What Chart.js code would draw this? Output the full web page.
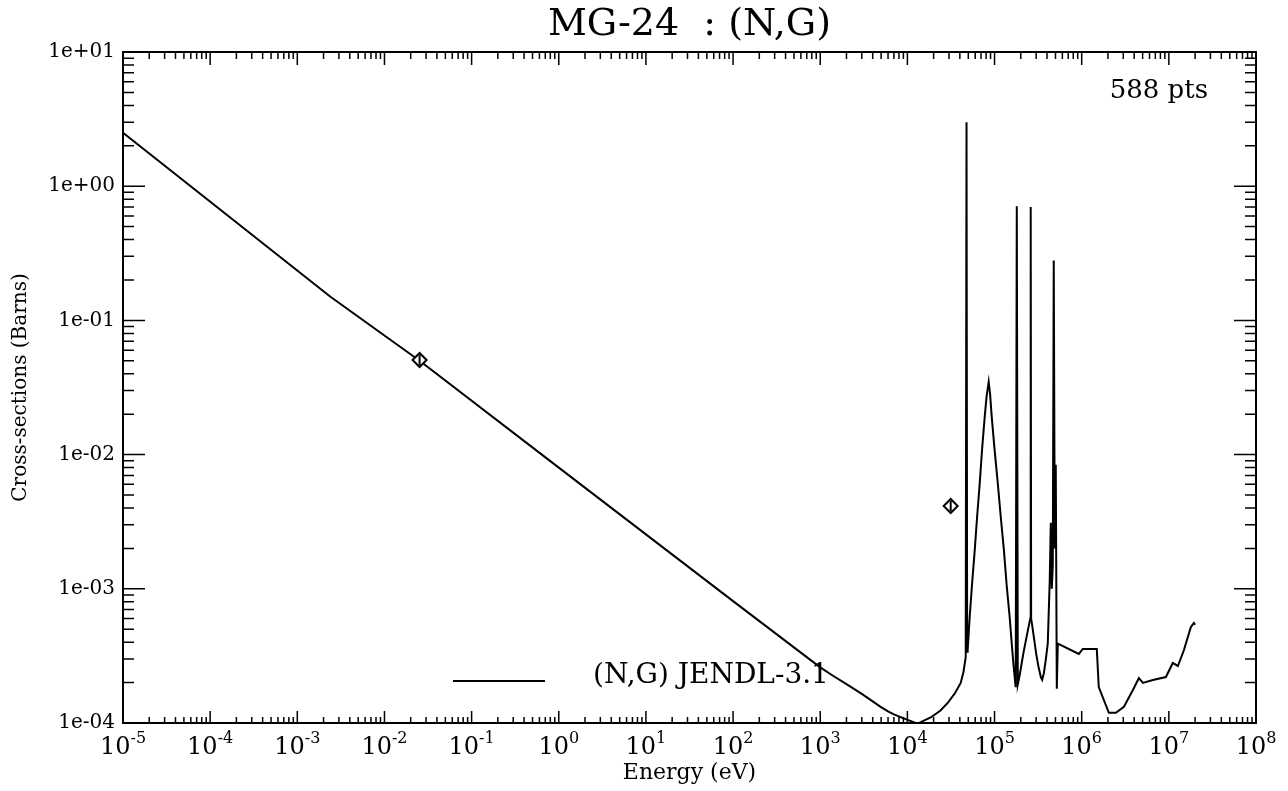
<!DOCTYPE html>
<html>
<head>
<meta charset="utf-8">
<title>MG-24 : (N,G)</title>
<script src="https://cdn.jsdelivr.net/npm/chart.js@4.4.0/dist/chart.umd.min.js"></script>
<style>
  html, body { margin: 0; padding: 0; background: #fff; }
  #wrap { position: relative; width: 1288px; height: 791px; }
</style>
</head>
<body>
<div id="wrap"><canvas id="xsChart"></canvas></div>
<script>
// Evaluated curve (JENDL-3.1): energy in eV, cross-section in barns
const energy = [
  1e-5, 2.4e-3, 0.0253, 1, 100, 1000, 1400, 2000, 3000, 4000,
  4930, 6000, 7000, 9550, 13100, 18500, 24000, 29000, 35000, 40900,
  44000, 46700, 47700, 48500, 49200, 51900, 55000, 59300, 63000, 67600,
  72000, 77100, 81000, 85700, 89000, 92900, 100000, 109000, 118000, 128000,
  138000, 149000, 158000, 166000, 172000, 175000, 180000, 185000, 195000, 205000,
  216000, 235000, 250000, 257000, 260000, 263000, 272000, 282000, 300000, 320000,
  340000, 352000, 368000, 387000, 408000, 430000, 442000, 454000, 466000, 478000,
  491000, 504000, 518000, 532000, 927000, 1030000, 1490000, 1570000, 2050000, 2470000,
  3050000, 3870000, 4530000, 5040000, 6560000, 9250000, 1.11e7, 1.27e7, 1.49e7, 1.79e7,
  1.94e7, 2.0e7
];
const xsec = [
  2.5, 0.15, 0.05, 8.0e-3, 8.1e-4, 2.6e-4, 2.25e-4, 1.95e-4, 1.65e-4, 1.45e-4,
  1.32e-4, 1.22e-4, 1.16e-4, 1.07e-4, 0.99e-4, 1.1e-4, 1.24e-4, 1.41e-4, 1.66e-4, 1.99e-4,
  2.4e-4, 3.1e-4, 3.0, 3.4e-4, 3.5e-4, 6.2e-4, 1.05e-3, 1.95e-3, 3.4e-3, 6.1e-3,
  0.011, 0.019, 0.027, 0.0348, 0.028, 0.019, 0.011, 6.1e-3, 3.4e-3, 1.95e-3,
  1.05e-3, 6.2e-4, 3.8e-4, 2.6e-4, 2.05e-4, 1.85e-4, 0.71, 1.95e-4, 2.3e-4, 2.8e-4,
  3.4e-4, 4.5e-4, 5.5e-4, 6.0e-4, 0.70, 6.0e-4, 5.2e-4, 4.4e-4, 3.3e-4, 2.6e-4,
  2.2e-4, 2.1e-4, 2.35e-4, 2.95e-4, 3.9e-4, 1.16e-3, 3.1e-3, 1.0e-3, 1.5e-3, 0.28,
  2.0e-3, 8.4e-3, 1.8e-4, 3.9e-4, 3.27e-4, 3.56e-4, 3.56e-4, 1.85e-4, 1.19e-4, 1.19e-4,
  1.32e-4, 1.76e-4, 2.16e-4, 1.99e-4, 2.09e-4, 2.2e-4, 2.8e-4, 2.66e-4, 3.5e-4, 5.19e-4,
  5.56e-4, 5.4e-4
];

// Experimental points (diamonds)
const expEnergy = [0.0253, 31400];
const expXsec = [0.0507, 4.14e-3];

// Axis decades
const xDecades = [-5, -4, -3, -2, -1, 0, 1, 2, 3, 4, 5, 6, 7, 8];
const yDecades = [-4, -3, -2, -1, 0, 1];

// Texts
const chartTitle = 'MG-24  : (N,G)';
const legendLabel = '(N,G) JENDL-3.1';
const pointsLabel = '588 pts';
const xTitle = 'Energy (eV)';
const yTitle = 'Cross-sections (Barns)';

const SERIF = '"DejaVu Serif", "Liberation Serif", serif';

// Format 10^n as 1e+01 / 1e-04
function expLabel(v) {
  const n = Math.round(Math.log10(v));
  return '1e' + (n < 0 ? '-' : '+') + String(Math.abs(n)).padStart(2, '0');
}

// Frame, inward ticks, x labels, legend and point count
const framePlugin = {
  id: 'frame',
  afterDraw(chart) {
    const { ctx, chartArea: a, scales: { x, y } } = chart;
    ctx.save();
    ctx.strokeStyle = '#000';
    ctx.fillStyle = '#000';

    ctx.lineWidth = 2;
    ctx.strokeRect(a.left, a.top, a.right - a.left, a.bottom - a.top);

    ctx.lineWidth = 1.5;
    ctx.beginPath();
    xDecades.forEach((d, i) => {
      for (let m = 1; m <= 9; m++) {
        if (m > 1 && i === xDecades.length - 1) break;
        const px = x.getPixelForValue(m * Math.pow(10, d));
        const major = m === 1;
        ctx.moveTo(px, a.bottom);
        ctx.lineTo(px, a.bottom - (major ? 12 : 6));
        ctx.moveTo(px, a.top);
        ctx.lineTo(px, a.top + (major ? 13 : 7));
      }
    });
    yDecades.forEach((d, i) => {
      for (let m = 1; m <= 9; m++) {
        if (m > 1 && i === yDecades.length - 1) break;
        const py = y.getPixelForValue(m * Math.pow(10, d));
        const major = m === 1;
        ctx.moveTo(a.left, py);
        ctx.lineTo(a.left + (major ? 22 : 11), py);
        ctx.moveTo(a.right, py);
        ctx.lineTo(a.right - (major ? 22 : 11), py);
      }
    });
    ctx.stroke();

    // x tick labels 10^n
    ctx.textBaseline = 'alphabetic';
    ctx.textAlign = 'left';
    xDecades.forEach(d => {
      const px = x.getPixelForValue(Math.pow(10, d));
      const sup = String(d);
      ctx.font = '24px ' + SERIF;
      const wb = ctx.measureText('10').width;
      ctx.font = '16px ' + SERIF;
      const ws = ctx.measureText(sup).width;
      const left = px - (wb + ws) / 2;
      ctx.font = '24px ' + SERIF;
      ctx.fillText('10', left, a.bottom + 31);
      ctx.font = '16px ' + SERIF;
      ctx.fillText(sup, left + wb, a.bottom + 20);
    });

    // legend
    ctx.lineWidth = 2;
    ctx.beginPath();
    ctx.moveTo(a.left + 330, a.bottom - 42);
    ctx.lineTo(a.left + 422, a.bottom - 42);
    ctx.stroke();
    ctx.font = '28px ' + SERIF;
    ctx.fillText(legendLabel, a.left + 470, a.bottom - 40);

    // point count
    ctx.textAlign = 'right';
    ctx.font = '26px ' + SERIF;
    ctx.fillText(pointsLabel, a.right - 48, a.top + 46);
    ctx.restore();
  }
};

const ctx = document.getElementById('xsChart').getContext('2d');

const xsChart = new Chart(ctx, {
  type: 'line',
  data: {
    datasets: [
      {
        // vertical bar through the diamonds
        type: 'scatter',
        data: expEnergy.map((e, i) => ({ x: e, y: expXsec[i] })),
        pointStyle: 'line',
        rotation: 90,
        pointRadius: 5,
        borderColor: '#000',
        borderWidth: 2,
        showLine: false
      },
      {
        type: 'scatter',
        data: expEnergy.map((e, i) => ({ x: e, y: expXsec[i] })),
        pointStyle: 'rectRot',
        pointRadius: 7,
        borderColor: '#000',
        backgroundColor: '#fff',
        borderWidth: 2,
        showLine: false
      },
      {
        label: legendLabel,
        data: energy.map((e, i) => ({ x: e, y: xsec[i] })),
        borderColor: '#000',
        borderWidth: 2,
        pointRadius: 0,
        tension: 0,
        fill: false
      }
    ]
  },
  options: {
    responsive: true,
    maintainAspectRatio: false,
    animation: false,
    layout: { padding: { left: 0, right: 32, top: 0, bottom: 0 } },
    plugins: {
      legend: { display: false },
      tooltip: { enabled: false },
      title: {
        display: true,
        text: chartTitle,
        fullSize: false,
        color: '#000',
        font: { family: SERIF, size: 38, weight: 'normal', lineHeight: 1.2 },
        padding: { top: 2, bottom: 4.4 }
      }
    },
    scales: {
      x: {
        type: 'logarithmic',
        min: 1e-5,
        max: 1e8,
        grid: { display: false },
        border: { display: false },
        ticks: { display: false },
        title: {
          display: true,
          text: xTitle,
          color: '#000',
          font: { family: SERIF, size: 22 },
          padding: { top: 0, bottom: 5 }
        },
        afterFit: s => { s.height = 68; }
      },
      y: {
        type: 'logarithmic',
        min: 1e-4,
        max: 10,
        grid: { display: false, drawTicks: false },
        border: { display: false },
        afterBuildTicks: s => { s.ticks = yDecades.map(d => ({ value: Math.pow(10, d) })); },
        ticks: {
          color: '#000',
          padding: 8,
          font: { family: SERIF, size: 20 },
          callback: v => expLabel(v)
        },
        title: {
          display: true,
          text: yTitle,
          color: '#000',
          font: { family: SERIF, size: 20 },
          padding: { top: 9, bottom: 0 }
        },
        afterFit: s => { s.width = 123; }
      }
    }
  },
  plugins: [framePlugin]
});
</script>
</body>
</html>
